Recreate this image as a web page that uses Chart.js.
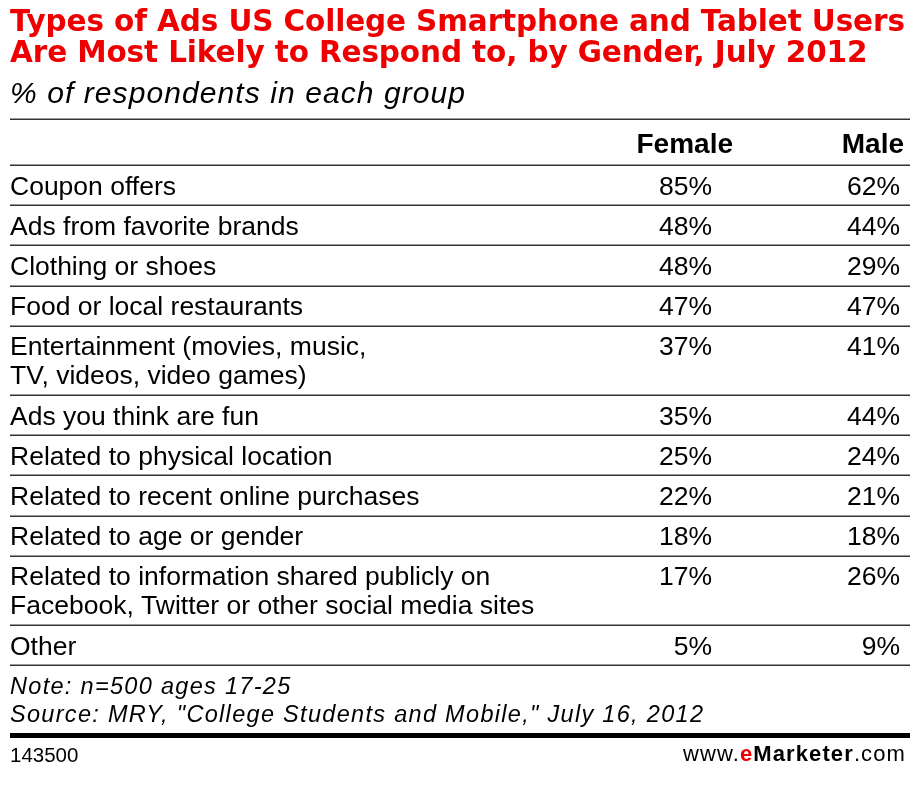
<!DOCTYPE html>
<html>
<head>
<meta charset="utf-8">
<script src="https://cdn.jsdelivr.net/npm/chart.js@4.4.1/dist/chart.umd.min.js"></script>
<style>
  html, body { margin: 0; padding: 0; background: #fff; }
  #page { position: relative; width: 910px; height: 800px; overflow: hidden; font-family: "Liberation Sans", Arial, sans-serif; color: #000; }
  #page canvas { position: absolute; left: 0; top: 0; }
  .txt { position: absolute; left: 10px; white-space: nowrap; line-height: 1; }
  .title { font-family: "DejaVu Sans", sans-serif; font-weight: bold; font-size: 29.5px; color: #ee0000; }
  .sub { font-style: italic; font-size: 30px; }
  .note { font-style: italic; font-size: 23.5px; }
  .foot { font-size: 20.5px; }
  #brand { left: auto; right: 4px; font-size: 22px; }
  #brand b { font-weight: bold; }
  #brand .e { color: #ee0000; }
  #rule { position: absolute; left: 10px; right: 0; top: 733px; height: 5px; background: #000; }
</style>
</head>
<body>
<div id="page">
  <canvas id="table" width="910" height="800"></canvas>
  <div class="txt title" data-base="32" id="t1">Types of Ads US College Smartphone and Tablet Users</div>
  <div class="txt title" data-base="63" id="t2">Are Most Likely to Respond to, by Gender, July 2012</div>
  <div class="txt sub" data-base="103" id="sub">% of respondents in each group</div>
  <div class="txt note" data-base="695" id="n1">Note: n=500 ages 17-25</div>
  <div class="txt note" data-base="723" id="n2">Source: MRY, "College Students and Mobile," July 16, 2012</div>
  <div id="rule"></div>
  <div class="txt foot" data-base="762" id="id">143500</div>
  <div class="txt" data-base="762" id="brand">www.<b class="e">e</b><b>Marketer</b>.com</div>
</div>
<script>
// table data
const rowLabels = [
  ["Coupon offers"],
  ["Ads from favorite brands"],
  ["Clothing or shoes"],
  ["Food or local restaurants"],
  ["Entertainment (movies, music,", "TV, videos, video games)"],
  ["Ads you think are fun"],
  ["Related to physical location"],
  ["Related to recent online purchases"],
  ["Related to age or gender"],
  ["Related to information shared publicly on", "Facebook, Twitter or other social media sites"],
  ["Other"]
];
const seriesNames = ["Female", "Male"];
const femaleValues = [85, 48, 48, 47, 37, 35, 25, 22, 18, 17, 5];
const maleValues = [62, 44, 29, 47, 41, 44, 24, 21, 18, 26, 9];
const seriesValues = [femaleValues, maleValues];

// layout
const tableTop = 119;
const headerH = 46;
const rowH = 40.2;
const lineGap = 29;
const valueRight = [712, 900];   // right edge of value columns
const headerRight = [733, 904];
const bodyFont = '26.5px "Liberation Sans", Arial, sans-serif';
const headFont = 'bold 28px "Liberation Sans", Arial, sans-serif';

// row tops in table units (px below the top rule)
const rowTops = [];
let acc = headerH;
rowLabels.forEach(lines => {
  rowTops.push(acc);
  acc += rowH + lineGap * (lines.length - 1);
});
const tableH = acc;
const firstLineY = rowTops.map(t => t + 20);

// x scale range so that column 1 and 2 land on valueRight
const areaLeft = 10, areaRight = 910;
const pxPerCol = valueRight[1] - valueRight[0];
const xRange = (areaRight - areaLeft) / pxPerCol;
const xMin = 1 - (valueRight[0] - areaLeft) / pxPerCol;

const tablePlugin = {
  id: "tableCells",
  afterDatasetsDraw(chart) {
    const { ctx, chartArea, scales: { y } } = chart;
    ctx.save();
    // rules
    ctx.strokeStyle = "#333";
    ctx.lineWidth = 1.5;
    const rules = [0, headerH].concat(rowTops.slice(1), [tableH]);
    rules.forEach(v => {
      const py = Math.round(y.getPixelForValue(v)) + 0.25;
      ctx.beginPath();
      ctx.moveTo(chartArea.left, py);
      ctx.lineTo(chartArea.right, py);
      ctx.stroke();
    });
    ctx.fillStyle = "#000";
    ctx.textBaseline = "alphabetic";
    // header
    ctx.font = headFont;
    ctx.textAlign = "right";
    const hy = y.getPixelForValue(headerH / 2 + 1) + 10;
    seriesNames.forEach((n, i) => ctx.fillText(n, headerRight[i], hy));
    // row labels
    ctx.font = bodyFont;
    ctx.textAlign = "left";
    rowLabels.forEach((lines, i) => {
      lines.forEach((line, j) => {
        const py = y.getPixelForValue(firstLineY[i] + j * lineGap) + 9.5;
        ctx.fillText(line, chartArea.left, py);
      });
    });
    // values, placed at the point elements
    ctx.textAlign = "right";
    chart.data.datasets.forEach((ds, d) => {
      chart.getDatasetMeta(d).data.forEach((pt, i) => {
        ctx.fillText(ds.data[i].v + "%", pt.x, pt.y + 9.5);
      });
    });
    ctx.restore();
  }
};

new Chart(document.getElementById("table"), {
  type: "scatter",
  data: {
    datasets: seriesNames.map((name, s) => ({
      label: name,
      data: seriesValues[s].map((v, i) => ({ x: s + 1, y: firstLineY[i], v: v })),
      pointRadius: 0
    }))
  },
  options: {
    responsive: false,
    animation: false,
    events: [],
    layout: { padding: { top: tableTop, left: areaLeft, right: 910 - areaRight, bottom: 800 - tableTop - tableH } },
    plugins: { legend: { display: false }, tooltip: { enabled: false } },
    scales: {
      x: { type: "linear", display: false, min: xMin, max: xMin + xRange },
      y: { type: "linear", display: false, reverse: true, min: 0, max: tableH }
    }
  },
  plugins: [tablePlugin]
});

// place text by baseline, and fit letter spacing to the widths in the picture
function place(el) {
  const fs = parseFloat(getComputedStyle(el).fontSize);
  el.style.top = (parseFloat(el.dataset.base) - 0.846 * fs) + "px";
}
function fit(els, target) {
  const w = els[0].getBoundingClientRect().width;
  const n = els[0].textContent.length - 1;
  const ls = (target - w) / n;
  els.forEach(el => el.style.letterSpacing = ls + "px");
}
document.querySelectorAll(".txt").forEach(place);
const $ = id => document.getElementById(id);
fit([$("t1"), $("t2")], 895);
fit([$("sub")], 455);
fit([$("n2"), $("n1")], 693);
fit([$("brand")], 222);
</script>
</body>
</html>
